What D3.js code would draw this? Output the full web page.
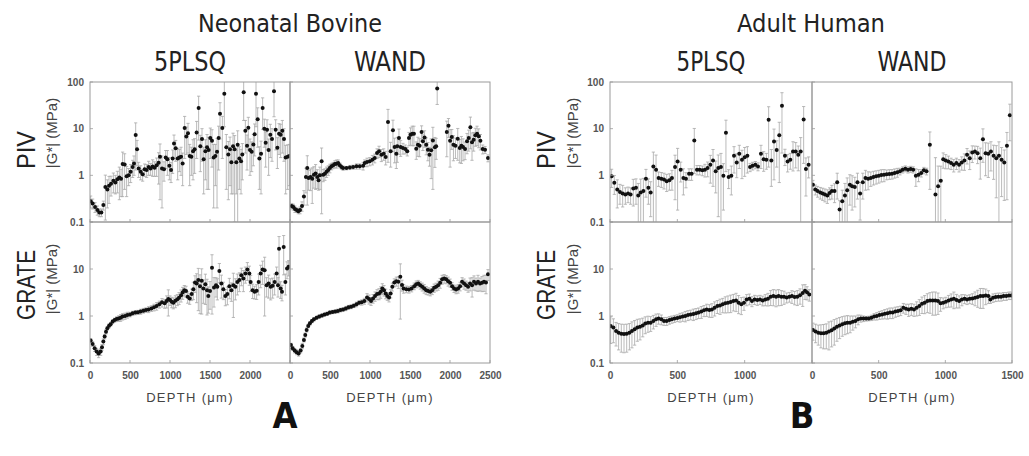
<!DOCTYPE html>
<html><head><meta charset="utf-8">
<script src="https://cdn.jsdelivr.net/npm/d3@7"></script>
<style>body{margin:0;background:#fff}</style>
</head><body>
<svg id="c" width="1029" height="456"></svg>
<script>
// ---------------- DATA ----------------
const groupTitles = ["Neonatal Bovine", "Adult Human"];
const columnTitles = ["5PLSQ", "WAND"];
const rowTitles = ["PIV", "GRATE"];
const yLabel = "|G*| (MPa)";
const xLabel = "DEPTH (\u03bcm)";
const panelLetters = ["A", "B"];
const yTicksTop = [0.1, 1, 10, 100];
const yTicksBottom = [0.1, 1, 10];
const xTicksBov5 = [0, 500, 1000, 1500, 2000];
const xTicksBovW = [0, 500, 1000, 1500, 2000, 2500];
const xTicksHum5 = [0, 500, 1000];
const xTicksHumW = [0, 500, 1000, 1500];
const bovDepthMax = 2500;
const humDepthMax = 1500;

// Neonatal Bovine, PIV, 5PLSQ
const bovPiv5Depth = [8,33,63,92,117,142,167,192,217,238,263,292,317,342,367,388,408,433,458,483,508,533,550,571,588,608,633,658,683,708,733,758,783,808,833,858,875,900,925,946,967,992,1013,1033,1050,1071,1096,1117,1138,1158,1183,1204,1225,1246,1267,1288,1308,1333,1358,1379,1400,1421,1442,1463,1483,1504,1525,1546,1567,1588,1608,1625,1654,1679,1704,1729,1750,1767,1788,1808,1829,1846,1867,1888,1904,1921,1942,1963,1979,2000,2021,2042,2058,2075,2096,2117,2138,2158,2179,2196,2213,2233,2254,2275,2300,2321,2342,2363,2383,2404,2425,2446,2471,2492];
const bovPiv5G = [0.28,0.25,0.21,0.18,0.16,0.16,0.23,0.56,0.5,0.6,0.66,0.77,0.7,0.82,0.9,0.85,1.75,1.7,0.95,1.0,1.2,1.5,1.8,7.3,3.6,1.4,1.2,1.05,1.35,1.3,1.5,1.4,1.55,1.45,1.65,1.85,2.5,1.4,1.35,2.4,2.2,1.6,1.3,2.3,4.8,3.8,2.3,2.4,2.5,1.8,10.3,6.8,8.0,2.6,2.5,3.3,3.6,8.3,27.7,4.2,6.0,2.2,3.3,4.0,3.5,6.3,5.5,2.4,2.6,3.2,6.3,21,10.3,56,4.0,2.8,3.6,1.9,4.2,3.6,1.9,4.5,2.3,2.0,2.8,60,9.0,4.3,10.5,3.5,3.2,4.6,7.6,56,16,2.3,2.9,27.7,10.0,5.0,9.5,3.5,7.4,6.0,63,9.5,3.9,7.8,7.4,9.0,6.0,2.4,2.5,2.6];
const bovPiv5Err = [0.08,0.06,0.05,0.04,0.03,0.03,0.05,0.45,0.3,0.35,0.3,0.35,0.3,0.4,0.6,0.5,1.4,1.2,0.6,0.4,0.5,0.6,0.8,6,2,0.5,0.4,0.3,0.4,0.4,0.5,0.4,0.6,0.5,0.7,1.2,2.2,1.2,0.6,1.0,1.2,0.8,0.6,1.2,2.5,1.8,1.5,1.2,1.5,1.2,8,4,5,2,1.5,2.5,2.5,6,22,3,4,1.8,2.5,3.5,3,4,4,2.2,2,3,5,15,8,45,3.5,2.5,3,1.5,3.8,3.5,1.5,4.5,1.8,1.6,2,45,6,3,7,2.5,2,3,5,45,12,1.8,2.5,18,6,3.5,6,2.5,5,4,45,6,2.5,5,5,6,4,2,2,2];

// Neonatal Bovine, PIV, WAND
const bovPivWDepth = [21,42,62,83,104,125,150,174,199,216,233,257,278,299,320,341,357,374,395,415,436,457,478,498,519,540,561,581,602,623,644,664,706,748,789,831,872,914,934,963,997,1030,1059,1088,1113,1142,1171,1196,1225,1258,1287,1308,1329,1341,1362,1383,1412,1441,1466,1487,1507,1528,1549,1578,1599,1620,1645,1661,1682,1703,1724,1744,1765,1786,1811,1827,1840,1960,1981,2001,2022,2043,2068,2097,2122,2142,2163,2188,2213,2234,2255,2275,2296,2317,2338,2359,2380,2409,2438,2475];
const bovPivWG = [0.22,0.21,0.19,0.18,0.17,0.18,0.22,0.35,0.92,1.43,0.88,0.92,0.85,1.03,1.1,0.92,0.78,1.0,2.0,1.03,1.08,1.2,1.3,1.43,1.56,1.64,1.75,1.78,1.84,1.64,1.5,1.43,1.43,1.48,1.5,1.56,1.56,1.6,1.84,1.93,2.0,2.17,2.35,3.0,3.3,2.77,2.9,2.47,13.9,3.3,9.2,4.05,2.9,4.2,6.3,4.05,3.85,3.67,3.3,6.3,7.4,7.8,7.8,3.7,4.55,4.3,8.5,5.4,6.5,4.55,3.55,2.77,3.45,5.6,3.98,4.2,73,8.5,11.5,5.5,6.6,4.55,4.3,6.1,3.85,4.3,4.05,3.67,5.4,6.3,10.7,5.1,5.8,7.2,7.8,6.9,5.5,3.67,3.55,2.35];
const bovPivWErr = [0.03,0.03,0.03,0.02,0.02,0.03,0.05,0.12,0.5,1.2,0.4,0.45,0.6,0.5,0.6,0.4,0.3,0.5,1.85,0.3,0.3,0.3,0.3,0.3,0.25,0.25,0.3,0.35,0.3,0.2,0.15,0.15,0.12,0.15,0.15,0.2,0.2,0.3,0.3,0.4,0.4,0.5,0.5,0.7,0.9,0.8,0.8,0.8,12,1.8,6,2.2,1.5,2.3,3.5,1.5,1.0,0.8,0.7,2.0,3.0,3.5,3.5,1.5,2.0,1.8,3.0,2.0,2.5,1.8,1.5,1.2,2.6,5.1,2.5,2.0,40,6,5,4,3,2.5,2,4,2,2.5,2,1.5,2.5,3,7,3,2.5,3,3.5,3,2,0.8,0.6,0.4];

// Neonatal Bovine, GRATE, 5PLSQ
const bovGrate5Depth = [8,33,58,83,108,133,150,167,183,200,217,238,258,283,308,333,358,383,408,438,467,500,533,567,600,633,667,700,733,767,800,833,867,900,933,958,979,1000,1021,1042,1067,1092,1113,1138,1158,1179,1200,1221,1246,1271,1292,1313,1333,1354,1375,1396,1417,1442,1463,1479,1500,1525,1550,1575,1592,1617,1642,1667,1692,1717,1742,1767,1792,1817,1842,1867,1892,1917,1942,1967,1992,2008,2033,2058,2083,2108,2133,2158,2183,2208,2233,2258,2283,2308,2333,2350,2363,2383,2400,2421,2442,2463,2483];
const bovGrate5G = [0.3,0.255,0.206,0.175,0.16,0.175,0.217,0.285,0.365,0.465,0.55,0.62,0.67,0.76,0.82,0.86,0.89,0.92,0.97,1.0,1.05,1.08,1.14,1.18,1.2,1.24,1.3,1.34,1.38,1.45,1.53,1.63,1.77,1.95,1.86,2.08,2.3,2.18,2.0,1.92,2.1,2.26,2.45,2.78,3.17,3.55,3.4,2.57,2.37,2.93,3.73,5.17,4.92,5.8,4.32,5.6,3.86,4.76,3.55,2.65,3.39,10.6,4.05,4.53,4.2,9.1,4.9,3.73,2.65,2.93,4.32,3.55,4.53,4.2,5.3,5.8,7.4,6.3,8.0,9.7,8.0,5.3,3.55,3.3,3.45,5.3,8.0,9.7,9.4,4.53,4.9,4.2,4.4,5.3,8.0,4.53,27,3.86,3.3,29.5,5.3,10.2,11.1];
const bovGrate5Err = [0.03,0.03,0.03,0.03,0.03,0.03,0.03,0.04,0.04,0.05,0.05,0.06,0.06,0.07,0.08,0.1,0.12,0.15,0.15,0.15,0.15,0.12,0.12,0.12,0.12,0.15,0.15,0.15,0.2,0.2,0.25,0.3,0.3,0.4,0.4,0.6,1.3,0.5,0.5,0.5,0.6,0.6,0.7,0.8,0.9,0.9,0.9,0.7,0.6,0.8,1.5,2.0,3.0,4.5,3.2,4.5,2.0,3.0,2.5,1.5,2.0,9.5,2.5,2.0,2.0,4.0,2.5,1.5,1.0,1.2,2.0,1.5,3.6,2.0,2.5,2.5,3.0,3.0,3.0,4.0,3.5,2.0,1.2,1.0,1.2,2.5,4.0,5.0,8.4,2.0,2.5,2.0,2.0,2.5,3.0,2.0,22,1.5,1.2,22,2.5,4.0,4.0];

// Neonatal Bovine, GRATE, WAND
const bovGrateWDepth = [12,33,58,83,108,133,154,174,191,208,228,249,274,299,332,365,399,432,465,498,532,565,598,631,664,698,731,764,797,831,864,897,930,963,988,1013,1038,1063,1088,1113,1134,1154,1175,1196,1217,1238,1258,1279,1304,1329,1354,1379,1400,1420,1454,1487,1520,1553,1578,1603,1628,1653,1678,1703,1728,1753,1778,1802,1827,1852,1877,1902,1927,1952,1977,2001,2026,2051,2076,2101,2126,2151,2176,2201,2226,2251,2276,2300,2325,2350,2375,2400,2425,2450,2475];
const bovGrateWG = [0.243,0.206,0.184,0.17,0.16,0.184,0.231,0.31,0.395,0.505,0.614,0.7,0.78,0.85,0.92,0.97,1.02,1.07,1.12,1.18,1.22,1.24,1.28,1.34,1.38,1.45,1.53,1.58,1.66,1.77,1.92,1.95,2.08,2.49,2.29,2.08,2.37,2.65,2.93,3.02,3.28,3.86,3.55,3.02,2.65,2.49,3.02,4.2,5.17,5.52,5.34,6.86,4.58,3.86,3.73,3.67,3.86,4.32,4.76,4.92,4.53,4.2,3.86,3.55,3.39,3.28,3.55,3.98,4.2,4.53,5.1,6.04,6.3,6.04,5.52,5.1,4.32,3.86,3.67,3.86,4.32,5.34,4.92,4.53,4.2,4.92,4.53,5.34,4.92,5.34,4.92,5.1,5.34,5.17,7.7];
const bovGrateWErr = [0.02,0.02,0.02,0.02,0.02,0.02,0.03,0.03,0.04,0.05,0.05,0.06,0.06,0.07,0.07,0.08,0.08,0.08,0.09,0.1,0.1,0.1,0.12,0.12,0.12,0.15,0.15,0.15,0.15,0.2,0.2,0.25,0.3,0.5,0.5,0.4,0.5,0.6,0.7,0.8,0.9,1.0,0.9,0.7,0.5,0.5,0.6,0.8,1.0,1.2,1.5,6.0,1.2,0.8,0.6,0.6,0.6,0.7,0.8,0.8,0.8,0.8,0.8,0.7,0.6,0.6,0.7,0.8,0.8,1.0,1.2,1.3,1.3,1.2,1.2,1.0,0.8,0.7,0.7,0.8,0.9,1.2,1.2,1.0,1.0,1.5,2.0,1.8,1.5,2.0,1.5,1.8,2.0,2.2,2.0];

// Adult Human, PIV, 5PLSQ
const humPiv5Depth = [12,32,54,74,94,114,134,153,173,193,210,228,248,267,285,302,322,342,361,381,401,421,441,460,483,502,525,545,564,587,606,626,646,666,686,705,725,745,765,785,804,824,842,861,881,901,921,941,960,980,1000,1020,1040,1059,1079,1099,1121,1141,1161,1178,1198,1218,1238,1257,1277,1299,1319,1339,1359,1379,1398,1416,1438,1455,1475];
const humPiv5G = [0.95,0.69,0.5,0.44,0.41,0.39,0.41,0.39,0.52,0.54,0.37,0.43,0.46,0.84,0.54,0.43,1.55,1.32,0.88,0.85,0.81,0.75,0.78,0.88,1.5,1.98,1.32,0.88,0.84,1.08,1.08,5.6,1.32,1.32,1.28,1.32,1.43,1.68,2.08,1.22,1.43,1.5,0.98,8.2,0.92,0.98,2.62,1.89,2.9,2.15,2.45,2.62,1.5,1.6,1.68,1.55,2.9,2.22,2.15,15.5,2.08,5.3,3.5,7.2,31,2.62,1.98,2.15,3.24,3.24,2.75,3.24,15.8,1.36,1.68];
const humPiv5Err = [0.4,0.3,0.3,0.2,0.2,0.15,0.15,0.15,0.3,0.3,0.3,0.4,0.4,0.5,0.3,0.3,1.6,1.4,0.3,0.3,0.3,0.3,0.3,0.4,1.2,1.8,0.6,0.5,0.3,0.3,0.3,4.5,0.3,0.3,0.3,0.4,0.5,1.0,1.5,0.8,1.3,1.45,0.8,7,0.4,0.6,1.5,1.0,1.5,1.3,1.5,1.5,0.3,0.3,0.3,0.3,1.5,1.0,0.8,14,1.5,4.5,2.0,6.5,28,1.0,0.8,0.8,2.0,1.8,1.5,3.2,14,1.0,0.8];

// Adult Human, PIV, WAND
const humPivWDepth = [7,25,42,62,80,97,115,132,149,169,189,207,227,247,264,284,301,321,341,361,381,401,421,441,461,481,501,520,540,560,580,600,620,640,660,680,700,720,740,759,779,799,819,839,859,884,926,946,966,984,1003,1023,1043,1063,1083,1103,1123,1143,1163,1183,1202,1222,1242,1262,1282,1302,1322,1342,1362,1382,1402,1422,1442,1462,1484];
const humPivWG = [0.63,0.5,0.46,0.43,0.41,0.39,0.37,0.42,0.46,0.46,0.71,0.186,0.28,0.37,0.48,0.63,0.58,0.56,0.71,0.41,0.71,0.88,0.84,0.88,0.92,0.95,0.98,1.02,1.03,1.05,1.07,1.08,1.12,1.16,1.22,1.32,1.39,1.32,1.36,1.32,0.98,1.03,1.12,1.28,1.22,4.5,0.39,0.58,0.77,2.22,2.08,1.98,1.83,1.68,1.83,1.68,1.89,2.08,2.75,2.33,3.08,3.24,2.98,2.33,5.9,2.98,2.9,3.24,2.62,2.33,2.62,2.15,1.89,4.3,19.5];
const humPivWErr = [0.15,0.12,0.12,0.12,0.12,0.12,0.12,0.12,0.15,0.2,0.4,0.1,0.2,0.3,0.4,0.4,0.4,0.35,0.4,0.3,0.4,0.4,0.35,0.3,0.3,0.3,0.3,0.3,0.3,0.25,0.25,0.25,0.25,0.25,0.2,0.2,0.2,0.2,0.2,0.2,0.4,0.3,0.2,0.2,0.2,4,2.0,1.0,0.8,0.8,0.7,0.6,0.5,0.5,0.5,0.5,0.6,0.8,1.0,1.0,1.2,1.0,1.2,1.5,4.0,2.0,2.0,2.0,1.8,2.0,2.6,1.8,1.6,4.0,14];

// Adult Human, GRATE, 5PLSQ
const humGrate5Depth = [5,25,45,64,84,104,124,144,163,183,203,223,243,262,282,302,322,342,361,381,401,421,441,460,480,500,520,540,559,579,599,619,639,658,678,698,718,738,757,777,797,817,837,856,876,896,916,936,955,975,995,1015,1035,1054,1074,1094,1114,1134,1153,1173,1193,1213,1233,1252,1272,1292,1312,1332,1351,1371,1391,1411,1431,1448,1463,1480];
const humGrate5G = [0.61,0.57,0.48,0.44,0.42,0.415,0.42,0.44,0.48,0.52,0.57,0.59,0.63,0.69,0.72,0.72,0.78,0.85,0.89,0.85,0.78,0.78,0.82,0.85,0.88,0.91,0.94,0.97,1.0,1.05,1.08,1.1,1.14,1.18,1.24,1.32,1.38,1.34,1.38,1.5,1.63,1.68,1.77,1.86,1.92,1.98,2.08,2.14,1.92,1.77,1.92,2.25,2.33,2.08,2.25,2.18,2.25,2.14,2.25,2.33,2.57,2.65,2.57,2.65,2.57,2.57,2.49,2.57,2.65,2.53,2.57,2.78,3.1,3.45,3.2,2.87];
const humGrate5Err = [0.35,0.3,0.25,0.25,0.25,0.25,0.25,0.25,0.27,0.28,0.28,0.28,0.27,0.27,0.27,0.25,0.25,0.25,0.22,0.2,0.15,0.15,0.15,0.15,0.15,0.15,0.2,0.2,0.25,0.25,0.25,0.3,0.3,0.3,0.35,0.35,0.4,0.4,0.45,0.5,0.5,0.6,0.6,0.7,0.75,0.8,0.8,0.9,0.8,0.7,0.6,0.6,0.6,0.5,0.5,0.5,0.5,0.5,0.6,0.7,0.9,1.0,1.0,1.0,0.9,0.8,0.6,0.6,0.8,0.8,0.9,1.0,1.5,1.2,1.0,0.8];

// Adult Human, GRATE, WAND
const humGrateWDepth = [7,27,47,67,87,107,127,147,167,187,207,227,247,266,286,306,326,346,366,386,406,426,446,466,486,506,526,546,566,585,605,625,645,665,685,705,725,745,765,785,805,825,845,865,885,905,925,945,964,984,1004,1024,1044,1064,1084,1104,1124,1144,1163,1183,1203,1223,1243,1263,1283,1303,1323,1338,1358,1378,1398,1418,1437,1457,1477,1495];
const humGrateWG = [0.505,0.47,0.44,0.43,0.43,0.44,0.47,0.5,0.54,0.59,0.63,0.67,0.7,0.72,0.72,0.75,0.78,0.85,0.89,0.88,0.88,0.89,0.92,0.97,1.0,1.05,1.08,1.12,1.14,1.18,1.18,1.24,1.28,1.32,1.5,1.43,1.38,1.43,1.38,1.5,1.63,1.83,1.92,2.08,2.14,2.14,2.14,2.08,1.86,1.92,2.0,2.14,2.25,2.33,2.18,2.08,2.25,2.33,2.25,2.33,2.37,2.45,2.53,2.65,2.65,2.74,2.65,2.25,2.45,2.53,2.57,2.57,2.65,2.65,2.74,2.74];
const humGrateWErr = [0.2,0.2,0.2,0.22,0.23,0.24,0.28,0.28,0.3,0.3,0.3,0.3,0.3,0.3,0.28,0.25,0.22,0.2,0.15,0.12,0.1,0.1,0.12,0.15,0.18,0.2,0.22,0.25,0.28,0.3,0.3,0.3,0.3,0.3,0.35,0.35,0.4,0.4,0.4,0.5,0.6,0.7,0.8,0.9,1.0,1.1,1.1,1.0,0.6,0.5,0.5,0.6,0.7,0.9,0.7,0.6,0.6,0.5,0.5,0.5,0.6,0.8,1.0,1.2,1.2,1.0,0.8,0.4,0.5,0.5,0.5,0.5,0.5,0.5,0.5,0.5];

// ---------------- LAYOUT ----------------
const svg = d3.select('#c');
const rows = [{top: 82, bottom: 222}, {top: 222, bottom: 363}];
const groups = [
  {x0: 90, mid: 290, x1: 490, max: bovDepthMax, ticks: [xTicksBov5, xTicksBovW],
   series: [[bovPiv5Depth, bovPiv5G, bovPiv5Err], [bovPivWDepth, bovPivWG, bovPivWErr],
            [bovGrate5Depth, bovGrate5G, bovGrate5Err], [bovGrateWDepth, bovGrateWG, bovGrateWErr]],
   rowX: 26, yLabX: 52, titleW: 184, colW: [72, 72], letterX: 285},
  {x0: 610, mid: 812, x1: 1012, max: humDepthMax, ticks: [xTicksHum5, xTicksHumW],
   series: [[humPiv5Depth, humPiv5G, humPiv5Err], [humPivWDepth, humPivWG, humPivWErr],
            [humGrate5Depth, humGrate5G, humGrate5Err], [humGrateWDepth, humGrateWG, humGrateWErr]],
   rowX: 546, yLabX: 573, titleW: 148, colW: [69, 69], letterX: 802}
];
const frameColor = '#9a9a9a';
const tickFont = "'Liberation Sans', Arial, sans-serif";
const narrowFont = "'Liberation Sans Narrow', 'DejaVu Sans Condensed', 'Liberation Sans', sans-serif";
const defs = svg.append('defs');
let clipId = 0;

groups.forEach((G, gi) => {
  const cols = [[G.x0, G.mid], [G.mid, G.x1]];
  rows.forEach((R, ri) => {
    const y = d3.scaleLog().domain([0.1, 100]).range([R.bottom, R.top]);
    cols.forEach((C, ci) => {
      const x = d3.scaleLinear().domain([0, G.max]).range([C[0], C[1]]);
      const [dep, gv, er] = G.series[ri * 2 + ci];
      const n = Math.min(dep.length, gv.length, er.length);
      const data = d3.range(n).map(i => ({d: dep[i], g: gv[i], e: er[i]}));
      const id = 'clip' + (clipId++);
      defs.append('clipPath').attr('id', id).append('rect')
        .attr('x', C[0]).attr('y', R.top).attr('width', C[1] - C[0]).attr('height', R.bottom - R.top);
      const pg = svg.append('g').attr('clip-path', `url(#${id})`);
      // error bars
      const eb = pg.append('g').attr('stroke', '#a8a8a8').attr('stroke-width', 0.8).attr('fill', 'none');
      data.forEach(p => {
        const lo = Math.max(p.g - p.e, 0.02), hi = p.g + p.e;
        const xx = x(p.d);
        eb.append('line').attr('x1', xx).attr('x2', xx).attr('y1', y(lo)).attr('y2', y(hi));
        if (lo > 0.1) eb.append('line').attr('x1', xx - 1.6).attr('x2', xx + 1.6).attr('y1', y(lo)).attr('y2', y(lo));
        if (hi < 100) eb.append('line').attr('x1', xx - 1.6).attr('x2', xx + 1.6).attr('y1', y(hi)).attr('y2', y(hi));
      });
      // points
      pg.append('g').selectAll('circle').data(data).join('circle')
        .attr('cx', p => x(p.d)).attr('cy', p => y(p.g)).attr('r', 2.0).attr('fill', '#111');
      // inner ticks
      const tk = svg.append('g').attr('stroke', frameColor).attr('stroke-width', 0.8);
      [0.1, 1, 10, 100].forEach(v => tk.append('line').attr('x1', C[0]).attr('x2', C[0] + 3).attr('y1', y(v)).attr('y2', y(v)));
      G.ticks[ci].forEach(v => tk.append('line').attr('x1', x(v)).attr('x2', x(v)).attr('y1', R.bottom).attr('y2', R.bottom - 3));
      // frame
      svg.append('rect').attr('x', C[0]).attr('y', R.top).attr('width', C[1] - C[0]).attr('height', R.bottom - R.top)
        .attr('fill', 'none').attr('stroke', frameColor).attr('stroke-width', 1);
      // x axis (bottom row only)
      if (ri === 1) {
        const ax = svg.append('g').attr('transform', `translate(0,${R.bottom})`)
          .call(d3.axisBottom(x).tickValues(G.ticks[ci]).tickSize(0).tickPadding(9).tickFormat(d3.format('d')));
        ax.select('.domain').remove();
        ax.selectAll('text').attr('font-family', tickFont).attr('font-weight', 'bold').attr('font-size', 10).attr('fill', '#555');
        svg.append('text').attr('x', (C[0] + C[1]) / 2).attr('y', 402).attr('text-anchor', 'middle')
          .attr('font-family', tickFont).attr('font-size', 13).attr('letter-spacing', 1.3).attr('fill', '#444')
          .text(xLabel);
      }
    });
    // y axis
    const ay = svg.append('g').attr('transform', `translate(${G.x0},0)`)
      .call(d3.axisLeft(y).tickValues(ri === 0 ? yTicksTop : yTicksBottom).tickSize(0).tickPadding(6)
        .tickFormat(v => v < 1 ? '0.1' : d3.format('d')(v)));
    ay.select('.domain').remove();
    ay.selectAll('text').attr('font-family', tickFont).attr('font-weight', 'bold').attr('font-size', 10).attr('fill', '#555');
    // row labels
    const cy = ri === 0 ? 150 : 285;
    const ly = ri === 0 ? 133 : 279;
    svg.append('text').attr('transform', `translate(${G.rowX + 9},${cy}) rotate(-90)`).attr('text-anchor', 'middle')
      .attr('font-family', tickFont).attr('font-size', 25).attr('fill', '#222')
      .attr('textLength', ri === 0 ? 38 : 70).attr('lengthAdjust', 'spacingAndGlyphs')
      .text(rowTitles[ri]);
    svg.append('text').attr('transform', `translate(${G.yLabX + 5},${ly}) rotate(-90)`).attr('text-anchor', 'middle')
      .attr('font-family', tickFont).attr('font-size', 15).attr('fill', '#444')
      .text(yLabel);
  });
  // titles
  svg.append('text').attr('x', (G.x0 + G.x1) / 2).attr('y', 32).attr('text-anchor', 'middle')
    .attr('font-family', narrowFont).attr('font-size', 25).attr('fill', '#222')
    .attr('textLength', G.titleW).attr('lengthAdjust', 'spacingAndGlyphs').text(groupTitles[gi]);
  cols.forEach((C, ci) => {
    svg.append('text').attr('x', (C[0] + C[1]) / 2).attr('y', 71).attr('text-anchor', 'middle')
      .attr('font-family', narrowFont).attr('font-size', 26).attr('fill', '#222')
      .attr('textLength', G.colW[ci]).attr('lengthAdjust', 'spacingAndGlyphs').text(columnTitles[ci]);
  });
  svg.append('text').attr('x', G.letterX).attr('y', 428).attr('text-anchor', 'middle')
    .attr('font-family', narrowFont).attr('font-weight', 'bold').attr('font-size', 36).attr('fill', '#111')
    .text(panelLetters[gi]);
});
</script>
</body></html>
